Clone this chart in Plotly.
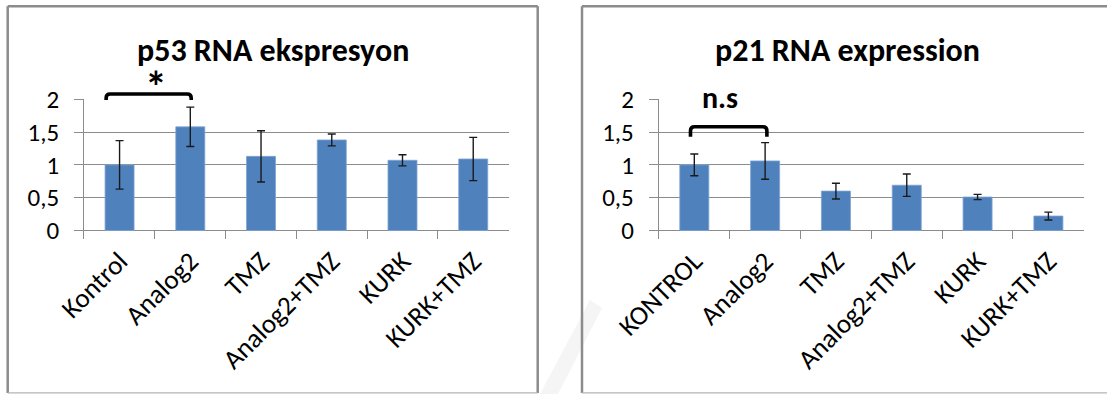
import plotly.graph_objects as go

# ---------------- data ----------------
p53_categories = ["Kontrol", "Analog2", "TMZ", "Analog2+TMZ", "KURK", "KURK+TMZ"]
p53_values = [1.00, 1.58, 1.13, 1.38, 1.07, 1.09]
p53_errors = [0.37, 0.30, 0.39, 0.09, 0.085, 0.33]

p21_categories = ["KONTROL", "Analog2", "TMZ", "Analog2+TMZ", "KURK", "KURK+TMZ"]
p21_values = [1.00, 1.06, 0.60, 0.69, 0.51, 0.22]
p21_errors = [0.165, 0.28, 0.12, 0.17, 0.04, 0.06]

y_tickvals = [0, 0.5, 1, 1.5, 2]
y_ticktext = ["0", "0,5", "1", "1,5", "2"]

titles = ["p53 RNA ekspresyon", "p21 RNA expression"]
sig_labels = ["*", "n.s"]

# ---------------- layout constants ----------------
W, H = 1107, 394
FONT = "Carlito, Calibri, Lato, sans-serif"
BAR = "#4F81BD"
GRID = "#8C8C8C"
YMIN, YMAX = -0.13, 2.0

xdom_left = [84.2 / W, 508.6 / W]
xdom_right = [658.9 / W, 1083.8 / W]
ydom = [1 - 239.0 / H, 1 - 99.3 / H]


def px(xdom, xc):
    return xdom[0] + (xc + 0.5) / 6 * (xdom[1] - xdom[0])


def py(yv):
    return ydom[0] + (yv - YMIN) / (YMAX - YMIN) * (ydom[1] - ydom[0])


fig = go.Figure()

fig.add_trace(go.Bar(
    x=p53_categories, y=p53_values, width=0.41,
    marker=dict(color=BAR, line=dict(color="#7FA3D3", width=0.8)),
    error_y=dict(type="data", array=p53_errors, color="#1a1a1a", thickness=1.4, width=4),
    xaxis="x", yaxis="y", showlegend=False,
))
fig.add_trace(go.Bar(
    x=p21_categories, y=p21_values, width=0.41,
    marker=dict(color=BAR, line=dict(color="#7FA3D3", width=0.8)),
    error_y=dict(type="data", array=p21_errors, color="#1a1a1a", thickness=1.4, width=4),
    xaxis="x2", yaxis="y2", showlegend=False,
))

xcommon = dict(
    type="category", range=[-0.5, 5.5], showgrid=False, showline=False, zeroline=False,
    ticks="inside", tickson="boundaries", ticklen=8, tickcolor=GRID, tickwidth=1.2,
    tickangle=-45, tickfont=dict(family=FONT, size=27, color="#000"), fixedrange=True,
    automargin=False,
)
ycommon = dict(
    range=[YMIN, YMAX], domain=ydom, tickvals=y_tickvals, ticktext=y_ticktext,
    showgrid=True, gridcolor=GRID, gridwidth=1.2,
    zeroline=True, zerolinecolor=GRID, zerolinewidth=1.2,
    showline=True, linecolor=GRID, linewidth=1.2,
    ticks="outside", ticklen=9, tickcolor=GRID, tickwidth=1.2,
    ticklabelstandoff=10,
    tickfont=dict(family=FONT, size=25, color="#000"), fixedrange=True,
    automargin=False,
)

fig.update_layout(
    template="none",
    width=W, height=H, margin=dict(l=0, r=0, t=0, b=0, pad=0), autosize=False,
    paper_bgcolor="white", plot_bgcolor="rgba(0,0,0,0)",
    xaxis=dict(domain=xdom_left, anchor="y", **xcommon),
    yaxis=dict(anchor="x", **ycommon),
    xaxis2=dict(domain=xdom_right, anchor="y2", **xcommon),
    yaxis2=dict(anchor="x2", **ycommon),
    bargap=0.59,
)

shapes = []
# faint watermark band between panels
shapes.append(dict(type="path", xref="paper", yref="paper", layer="below",
                   path="M %f,%f L %f,%f L %f,%f L %f,%f Z" % (
                       540 / W, 0, 590 / W, 1 - 300 / H, 602 / W, 1 - 308 / H, 558 / W, 0),
                   fillcolor="#F5F5F5", line=dict(width=0)))


def seg(x0, y0, x1, y1, color, width):
    return dict(type="line", xref="paper", yref="paper",
                x0=x0 / W, y0=1 - y0 / H, x1=x1 / W, y1=1 - y1 / H,
                line=dict(color=color, width=width))


# panel borders (left panel)
shapes += [
    seg(7.7, 6.3, 537.7, 6.3, GRID, 2.5),
    seg(7.7, 6.3, 7.7, 393, GRID, 2.5),
    seg(537.7, 6.3, 537.7, 393, GRID, 2.5),
    seg(7.7, 392.8, 537.7, 392.8, "#B4B4B4", 1.3),
]
# panel borders (right panel, right edge off-screen)
shapes += [
    seg(582, 6.3, 1110, 6.3, GRID, 2.5),
    seg(582, 6.3, 582, 393, GRID, 2.5),
    seg(582, 392.8, 1110, 392.8, "#B4B4B4", 1.3),
]


def bracket(xdom, xa, xb, ylow, ytop):
    x0, x1 = px(xdom, xa), px(xdom, xb)
    y0, y1 = py(ylow), py(ytop)
    rx, ry = 4 / W, 4 / H
    return dict(type="path", xref="paper", yref="paper",
                path=("M %f,%f L %f,%f Q %f,%f %f,%f L %f,%f Q %f,%f %f,%f L %f,%f" % (
                    x0, y0, x0, y1 - ry, x0, y1, x0 + rx, y1,
                    x1 - rx, y1, x1, y1, x1, y1 - ry, x1, y0)),
                line=dict(color="black", width=3.6))


shapes.append(bracket(xdom_left, -0.19, 1.013, 1.99, 2.08))
shapes.append(bracket(xdom_right, -0.054, 1.025, 1.43, 1.582))
fig.update_layout(shapes=shapes)

annotations = [
    dict(text="<b>%s</b>" % titles[0], xref="paper", yref="paper",
         x=272.7 / W, y=1 - 50 / H, showarrow=False, xanchor="center", yanchor="middle",
         font=dict(family=FONT, size=32, color="#000")),
    dict(text="<b>%s</b>" % titles[1], xref="paper", yref="paper",
         x=847 / W, y=1 - 50 / H, showarrow=False, xanchor="center", yanchor="middle",
         font=dict(family=FONT, size=32, color="#000")),
    dict(text="<b>%s</b>" % sig_labels[0], xref="paper", yref="paper",
         x=px(xdom_left, 0.51), y=py(2.19),
         showarrow=False, xanchor="center", yanchor="middle",
         font=dict(family=FONT, size=44, color="#000")),
    dict(text="<b>%s</b>" % sig_labels[1], xref="paper", yref="paper",
         x=px(xdom_right, 0.36), y=py(2.035),
         showarrow=False, xanchor="center", yanchor="middle",
         font=dict(family=FONT, size=30, color="#000")),
]
fig.update_layout(annotations=annotations)

fig.write_html("out.html")
